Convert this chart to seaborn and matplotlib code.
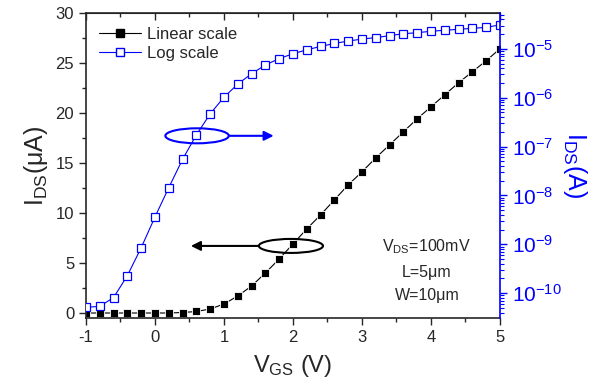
import numpy as np
import pandas as pd
import matplotlib
matplotlib.use('Agg')
import matplotlib.pyplot as plt
from matplotlib.patches import Ellipse
from matplotlib.ticker import MultipleLocator, LogLocator, LogFormatterMathtext
from matplotlib.lines import Line2D
import seaborn as sns

# --- dados ---
vgs = [-1.0, -0.8, -0.6, -0.4, -0.2, 0.0, 0.2, 0.4, 0.6, 0.8, 1.0,
       1.2, 1.4, 1.6, 1.8, 2.0, 2.2, 2.4, 2.6, 2.8, 3.0,
       3.2, 3.4, 3.6, 3.8, 4.0, 4.2, 4.4, 4.6, 4.8, 5.0]
ids_lin_uA = [0.0, 0.0, 0.0, 0.0, 0.0, 0.0, 0.0, 0.05, 0.15, 0.4, 0.9,
              1.7, 2.7, 4.0, 5.4, 6.9, 8.4, 9.8, 11.3, 12.8, 14.1,
              15.5, 16.8, 18.1, 19.4, 20.6, 21.8, 23.0, 24.1, 25.2, 26.4]
ids_log_exp = [-10.29, -10.27, -10.09, -9.64, -9.07, -8.44, -7.84, -7.26, -6.76, -6.33, -5.99,
               -5.72, -5.51, -5.33, -5.20, -5.10, -5.02, -4.95, -4.89, -4.84, -4.80,
               -4.77, -4.73, -4.69, -4.67, -4.64, -4.62, -4.60, -4.58, -4.56, -4.51]
legend_labels = ['Linear scale', 'Log scale']
info_lines = ['V$_{DS}$=100mV', 'L=5\u03bcm', 'W=10\u03bcm']

df = pd.DataFrame({'VGS': vgs, 'lin': ids_lin_uA, 'log': 10.0 ** np.array(ids_log_exp)})

sns.set_style('ticks')
plt.rcParams['font.family'] = ['Liberation Sans', 'DejaVu Sans']
plt.rcParams['mathtext.fontset'] = 'custom'
plt.rcParams['mathtext.rm'] = 'Liberation Sans'
plt.rcParams['mathtext.it'] = 'Liberation Sans'
plt.rcParams['mathtext.bf'] = 'Liberation Sans'
plt.rcParams['mathtext.default'] = 'regular'
plt.rcParams['axes.unicode_minus'] = False

fig = plt.figure(figsize=(5.91, 3.90), dpi=100)
ax = fig.add_axes([0.1455, 0.1846, 0.7005, 0.7829])
ax2 = ax.twinx()

sns.lineplot(data=df, x='VGS', y='lin', ax=ax, color='black', marker='s',
             markersize=6, markeredgewidth=0.6, linewidth=0.8)
sns.lineplot(data=df, x='VGS', y='log', ax=ax2, color='blue', marker='s',
             markersize=6, markerfacecolor='white', markeredgecolor='blue',
             markeredgewidth=0.9, linewidth=0.8)
ax2.set_xlabel('')
ax2.xaxis.set_visible(False)

ax.set_xlim(-1, 5)
ax.set_ylim(-0.5, 30)
ax2.set_yscale('log')
ax2.set_ylim(3.1e-11, 5.5e-5)

ax.xaxis.set_major_locator(MultipleLocator(1))
ax.xaxis.set_minor_locator(MultipleLocator(0.5))
ax.yaxis.set_major_locator(MultipleLocator(5))
ax.yaxis.set_minor_locator(MultipleLocator(2.5))
ax.tick_params(which='major', length=5, width=1, labelsize=12, direction='out')
ax.tick_params(which='minor', length=3, width=1, direction='out')
ax.tick_params(axis='y', right=False)

sec = ax.secondary_xaxis('top')
sec.xaxis.set_major_locator(MultipleLocator(1))
sec.xaxis.set_minor_locator(MultipleLocator(0.5))
sec.tick_params(which='major', direction='in', length=5, width=1, labeltop=False)
sec.tick_params(which='minor', direction='in', length=3, width=1)

ax2.yaxis.set_major_locator(LogLocator(base=10, numticks=20))
ax2.yaxis.set_minor_locator(LogLocator(base=10, subs=np.arange(2, 10), numticks=20))
ax2.yaxis.set_major_formatter(LogFormatterMathtext())
ax2.tick_params(axis='y', which='major', colors='blue', length=5, width=1, labelsize=15)
ax2.tick_params(axis='y', which='minor', colors='blue', length=3, width=0.8)
ax2.spines['right'].set_color('blue')
ax2.spines['right'].set_linewidth(1.2)
ax.spines['right'].set_visible(False)
for s in ['left', 'bottom', 'top']:
    ax.spines[s].set_linewidth(1.2)
    ax2.spines[s].set_visible(False)

ax.set_xlabel('V$_{GS}$ (V)', fontsize=17, labelpad=6)
ax.set_ylabel('I$_{DS}$(\u03bcA)', fontsize=18, labelpad=4)
ax2.set_ylabel('I$_{DS}$(A)', fontsize=18, color='blue', rotation=270, labelpad=20)

# elipses e setas
ax.add_patch(Ellipse((0.61, 17.7), 0.92, 1.5, fill=False, edgecolor='blue', linewidth=1.5, zorder=5))
ax.annotate('', xy=(1.72, 17.7), xytext=(1.07, 17.7),
            arrowprops=dict(arrowstyle='-|>', color='blue', lw=1.5, mutation_scale=14,
                            shrinkA=0, shrinkB=0))
ax.add_patch(Ellipse((1.97, 6.7), 0.93, 1.4, fill=False, edgecolor='black', linewidth=1.5, zorder=5))
ax.annotate('', xy=(0.52, 6.7), xytext=(1.5, 6.7),
            arrowprops=dict(arrowstyle='-|>', color='black', lw=1.5, mutation_scale=14,
                            shrinkA=0, shrinkB=0))

for txt, yy in zip(info_lines, [6.6, 4.0, 1.7]):
    ax.text(3.94, yy, txt, fontsize=11.5, ha='center', va='center')

handles = [Line2D([], [], color='black', marker='s', markersize=6, linewidth=0.8),
           Line2D([], [], color='blue', marker='s', markersize=6, markerfacecolor='white',
                  markeredgecolor='blue', linewidth=0.8)]
ax2.legend(handles, legend_labels, loc='upper left', frameon=False, fontsize=12,
           handlelength=2.5, handletextpad=0.4, labelspacing=0.25,
           borderaxespad=0.0, bbox_to_anchor=(0.015, 0.975))

fig.savefig('out.png', dpi=100)
